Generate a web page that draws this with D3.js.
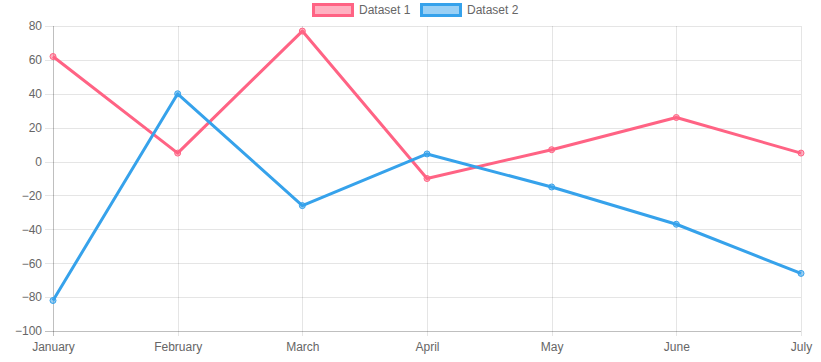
<!DOCTYPE html>
<html>
<head>
<meta charset="utf-8">
<script src="https://cdn.jsdelivr.net/npm/d3@7"></script>
<style>
  body { margin: 0; background: #fff; }
  text { font-family: "Liberation Sans", Arial, sans-serif; font-size: 12px; fill: #666; }
</style>
</head>
<body>
<svg width="821" height="362"></svg>
<script>
var months = ["January", "February", "March", "April", "May", "June", "July"];
var dataset1 = [62, 5, 77, -10, 7, 26, 5];
var dataset2 = [-82, 40, -26, 4.5, -15, -37, -66];
var yTicks = [80, 60, 40, 20, 0, -20, -40, -60, -80, -100];
var seriesNames = ["Dataset 1", "Dataset 2"];
var seriesColors = ["rgb(255, 99, 132)", "rgb(54, 162, 235)"];
var seriesFills = ["rgba(255, 99, 132, 0.5)", "rgba(54, 162, 235, 0.5)"];

var svg = d3.select("svg");
var plotL = 53, plotR = 801, plotT = 26, plotB = 331;

var x = d3.scalePoint().domain(months).range([plotL, plotR]);
var y = d3.scaleLinear().domain([-100, 80]).range([plotB, plotT]);

// grid
var grid = svg.append("g");
grid.selectAll(".hg").data(yTicks).enter().append("line")
  .attr("x1", plotL - 8).attr("x2", plotR)
  .attr("y1", d => Math.round(y(d)) + 0.5).attr("y2", d => Math.round(y(d)) + 0.5)
  .attr("stroke", d => d === -100 ? "rgba(0,0,0,0.25)" : "rgba(0,0,0,0.1)");
grid.selectAll(".vg").data(months).enter().append("line")
  .attr("x1", d => Math.round(x(d)) + 0.5).attr("x2", d => Math.round(x(d)) + 0.5)
  .attr("y1", plotT).attr("y2", plotB + 5)
  .attr("stroke", (d, i) => i === 0 ? "rgba(0,0,0,0.25)" : "rgba(0,0,0,0.1)");

// axes labels
var yAxis = d3.axisLeft(y).tickValues(yTicks).tickSize(0).tickPadding(11);
var gy = svg.append("g").attr("transform", "translate(" + plotL + ",0)").call(yAxis);
gy.select(".domain").remove();
gy.selectAll("text").style("font-size", "12px").attr("fill", "#666");

var xAxis = d3.axisBottom(x).tickSize(0).tickPadding(11);
var gx = svg.append("g").attr("transform", "translate(0," + plotB + ")").call(xAxis);
gx.select(".domain").remove();
gx.selectAll("text").style("font-size", "12px").attr("fill", "#666");

// series
var line = d3.line().x((d, i) => x(months[i])).y(d => y(d));
[dataset1, dataset2].forEach(function (data, k) {
  svg.append("path").datum(data)
    .attr("d", line)
    .attr("fill", "none")
    .attr("stroke", seriesColors[k])
    .attr("stroke-width", 3)
    .attr("stroke-linejoin", "round");
  svg.append("g").selectAll("circle").data(data).enter().append("circle")
    .attr("cx", (d, i) => x(months[i]))
    .attr("cy", d => y(d))
    .attr("r", 3)
    .attr("fill", seriesFills[k])
    .attr("stroke", seriesColors[k])
    .attr("stroke-width", 1);
});

// legend
var legendX = [313, 421];
var lg = svg.append("g");
seriesNames.forEach(function (name, k) {
  lg.append("rect")
    .attr("x", legendX[k] + 0.5).attr("y", 4.5)
    .attr("width", 39).attr("height", 11)
    .attr("fill", seriesFills[k])
    .attr("stroke", seriesColors[k])
    .attr("stroke-width", 3);
  lg.append("text")
    .attr("x", legendX[k] + 46).attr("y", 14)
    .text(name);
});
</script>
</body>
</html>
